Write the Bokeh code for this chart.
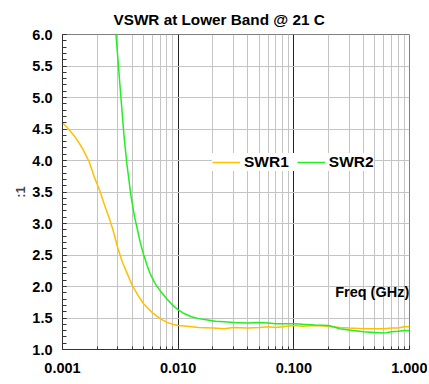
from bokeh.plotting import figure
from bokeh.models import (FixedTicker, SingleIntervalTicker, PrintfTickFormatter,
                          Legend, LegendItem, Label, Range1d, Title)
from bokeh.embed import file_html
from bokeh.resources import INLINE

# ---- data ----
freq1 = [0.0010, 0.0011, 0.0012, 0.0013, 0.0014, 0.0015, 0.0017, 0.0019, 0.0021,
         0.0023, 0.0025, 0.0027, 0.0030, 0.0033, 0.0036, 0.0040, 0.0045, 0.0050,
         0.0060, 0.0070, 0.0080, 0.0090, 0.010, 0.012, 0.015, 0.020, 0.025, 0.030,
         0.040, 0.050, 0.060, 0.070, 0.080, 0.100, 0.120, 0.150, 0.200, 0.250,
         0.300, 0.400, 0.500, 0.600, 0.700, 0.800, 0.900, 1.000]
swr1 = [4.60, 4.52, 4.44, 4.36, 4.27, 4.18, 3.98, 3.72, 3.52,
        3.30, 3.12, 2.93, 2.62, 2.38, 2.22, 2.02, 1.86, 1.73,
        1.58, 1.49, 1.43, 1.40, 1.38, 1.37, 1.35, 1.34, 1.33, 1.35,
        1.34, 1.35, 1.36, 1.35, 1.36, 1.38, 1.37, 1.38, 1.37, 1.35,
        1.34, 1.33, 1.33, 1.33, 1.34, 1.34, 1.36, 1.36]

freq2 = [0.0028, 0.0029, 0.0030, 0.0032, 0.0034, 0.0036, 0.0039, 0.0042, 0.0044,
         0.0047, 0.0050, 0.0054, 0.0057, 0.0063, 0.0070, 0.0080, 0.0090, 0.010,
         0.011, 0.013, 0.015, 0.018, 0.021, 0.025, 0.030, 0.040, 0.050, 0.060,
         0.070, 0.080, 0.100, 0.120, 0.150, 0.200, 0.250, 0.300, 0.400, 0.500,
         0.600, 0.700, 0.800, 0.900, 1.000]
swr2 = [6.20, 6.00, 5.65, 5.00, 4.40, 3.95, 3.45, 3.10, 2.94,
        2.70, 2.52, 2.33, 2.21, 2.05, 1.93, 1.80, 1.70, 1.63,
        1.58, 1.52, 1.49, 1.47, 1.45, 1.44, 1.43, 1.42, 1.43, 1.42,
        1.41, 1.41, 1.41, 1.40, 1.39, 1.38, 1.33, 1.31, 1.28, 1.27,
        1.26, 1.28, 1.29, 1.30, 1.30]

x_major = [0.001, 0.01, 0.1, 1.0]
x_minor = [m * d for d in [0.001, 0.01, 0.1] for m in range(2, 10)]

FONT = "Liberation Sans"

p = figure(width=427, height=383, x_axis_type="log",
           x_range=Range1d(0.001, 1.0), y_range=Range1d(1.0, 6.0),
           output_backend="svg", toolbar_location=None,
           min_border_left=62, min_border_right=18, min_border_top=34,
           min_border_bottom=34)
p.title = Title(text="VSWR at Lower Band @ 21 C", align="left", offset=51,
                vertical_align="top", standoff=10, text_font=FONT,
                text_font_size="15.3px", text_font_style="bold",
                text_color="black")

p.background_fill_color = "white"
p.border_fill_color = "white"
p.outline_line_color = "#808080"
p.outline_line_width = 1

# x axis
p.xaxis.ticker = FixedTicker(ticks=x_major, minor_ticks=x_minor)
p.xaxis.formatter = PrintfTickFormatter(format="%.3f")
p.xaxis.major_label_text_font = FONT
p.xaxis.major_label_text_font_size = "14.5px"
p.xaxis.major_label_text_font_style = "bold"
p.xaxis.major_label_text_color = "black"
p.xaxis.major_label_standoff = 13
p.xaxis.axis_line_color = "#333333"
p.xaxis.major_tick_in = 4
p.xaxis.major_tick_out = 0
p.xaxis.minor_tick_in = 3
p.xaxis.minor_tick_out = 0
p.xaxis.major_tick_line_color = "#333333"
p.xaxis.minor_tick_line_color = "#333333"

# y axis
p.yaxis.ticker = SingleIntervalTicker(interval=0.5, num_minor_ticks=5)
p.yaxis.formatter = PrintfTickFormatter(format="%.1f")
p.yaxis.major_label_text_font = FONT
p.yaxis.major_label_text_font_size = "14.5px"
p.yaxis.major_label_text_font_style = "bold"
p.yaxis.major_label_text_color = "black"
p.yaxis.major_label_standoff = 10
p.yaxis.axis_line_color = "#333333"
p.yaxis.major_tick_in = 4
p.yaxis.major_tick_out = 0
p.yaxis.minor_tick_in = 4
p.yaxis.minor_tick_out = 0
p.yaxis.major_tick_line_color = "#333333"
p.yaxis.minor_tick_line_color = "#333333"
p.yaxis.axis_label = ":1"
p.yaxis.axis_label_text_font = FONT
p.yaxis.axis_label_text_font_size = "13px"
p.yaxis.axis_label_text_font_style = "bold"
p.yaxis.axis_label_standoff = 1

# grids
p.xgrid.grid_line_color = "#222222"
p.xgrid.grid_line_width = 1
p.xgrid.minor_grid_line_color = "#c4c4c4"
p.xgrid.minor_grid_line_width = 1
p.ygrid.grid_line_color = "#c4c4c4"
p.ygrid.grid_line_width = 1

r1 = p.line(freq1, swr1, line_color="#FFC000", line_width=1.5)
r2 = p.line(freq2, swr2, line_color="#22EE22", line_width=1.5)

legend = Legend(items=[LegendItem(label="SWR1", renderers=[r1]),
                       LegendItem(label="SWR2", renderers=[r2])],
                orientation="horizontal", location=(150, 178),
                glyph_width=28, glyph_height=14, label_standoff=4, spacing=8,
                padding=3, margin=0, border_line_color=None,
                background_fill_color="white", background_fill_alpha=1.0,
                label_text_font=FONT, label_text_font_size="15.5px",
                label_text_font_style="bold", label_text_color="black")
p.add_layout(legend, "center")

freq_label = Label(x=0.995, y=1.905, text="Freq (GHz)", text_align="right",
                   text_baseline="middle", text_font=FONT, text_font_size="14.5px",
                   text_font_style="bold", text_color="black")
p.add_layout(freq_label)

open("out.html", "w").write(file_html(p, INLINE))
